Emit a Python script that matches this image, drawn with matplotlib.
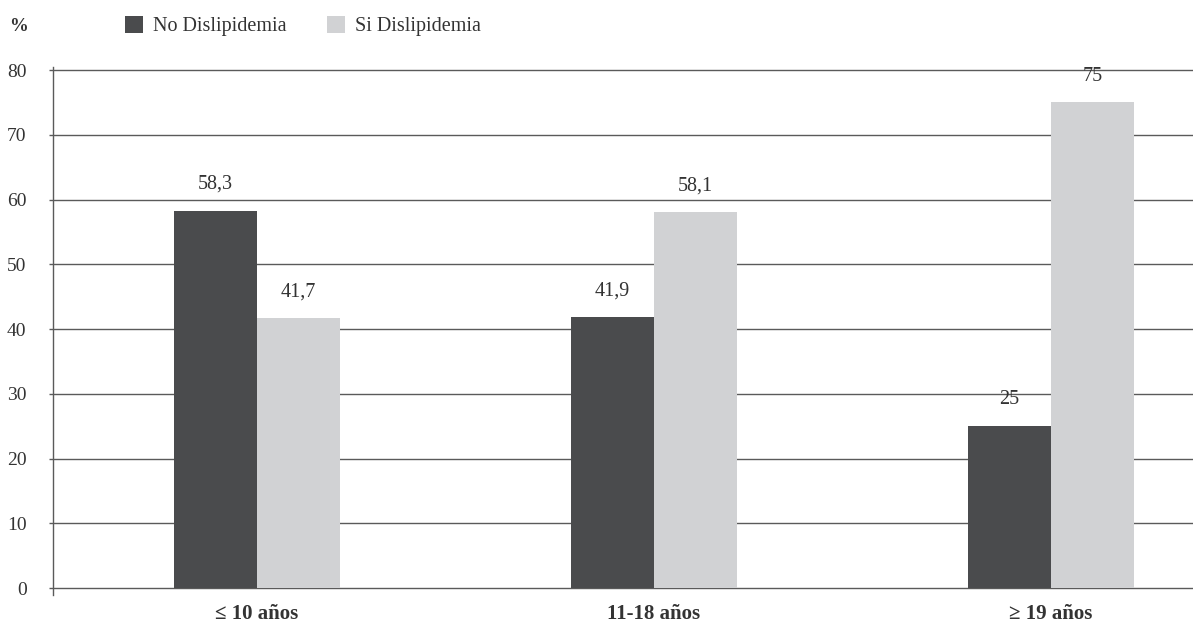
import numpy as np
import matplotlib.pyplot as plt

categories = ['≤ 10 años', '11-18 años', '≥ 19 años']
no_dislip = [58.3, 41.9, 25]
si_dislip = [41.7, 58.1, 75]
no_labels = ['58,3', '41,9', '25']
si_labels = ['41,7', '58,1', '75']

plt.rcParams['font.family'] = ['Liberation Serif', 'DejaVu Serif']

dark = '#4a4b4d'
light = '#d1d2d4'
grid_col = '#5a5a5a'
text_col = '#333333'

fig = plt.figure(figsize=(11.93, 6.26), dpi=100)
ax = fig.add_axes([0.0444, 0.0503, 0.9556, 0.843])

x = np.arange(len(categories))
w = 0.21
b1 = ax.bar(x - w / 2, no_dislip, w, color=dark, label='No Dislipidemia', zorder=3)
b2 = ax.bar(x + w / 2, si_dislip, w, color=light, label='Si Dislipidemia', zorder=3)

for bars, labels in [(b1, no_labels), (b2, si_labels)]:
    for rect, txt in zip(bars, labels):
        ax.annotate(txt, (rect.get_x() + rect.get_width() / 2, rect.get_height()),
                    xytext=(0, 12), textcoords='offset points', ha='center',
                    va='bottom', fontsize=14.5, color=text_col)

ax.set_xlim(-0.514, 2.358)
ax.set_ylim(-1, 80.5)
ax.set_yticks(np.arange(0, 81, 10))
ax.yaxis.grid(True, color=grid_col, linewidth=1, zorder=0)
ax.set_axisbelow(True)
ax.tick_params(axis='y', direction='out', length=3, width=1, color=grid_col,
               labelsize=14, labelcolor=text_col, pad=16)
ax.set_xticks(x)
ax.set_xticklabels(categories, fontsize=15, fontweight='bold', color=text_col)
ax.tick_params(axis='x', length=0, pad=7)
for s in ['top', 'right', 'bottom']:
    ax.spines[s].set_visible(False)
ax.spines['left'].set_color(grid_col)
ax.spines['left'].set_linewidth(1)

fig.text(0.008, 0.958, '%', fontsize=13.5, fontweight='bold', color=text_col,
         va='center')
fig.legend(loc='center left', bbox_to_anchor=(0.0896, 0.958), ncol=2,
           frameon=False, fontsize=14.5, handlelength=0.9, handleheight=0.9,
           handletextpad=0.5, columnspacing=2.0, labelcolor=text_col)

fig.savefig('out.png', dpi=100)
